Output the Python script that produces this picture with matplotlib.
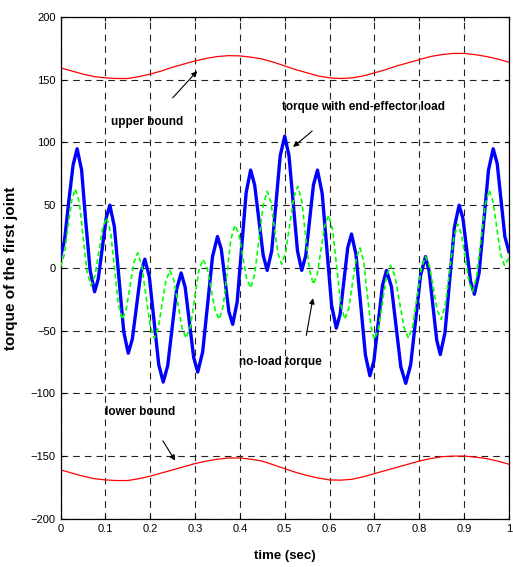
import numpy as np
import matplotlib
matplotlib.use('Agg')
import matplotlib.pyplot as plt

# torque with end-effector load (blue)
blue_t = [0.000, 0.009, 0.018, 0.028, 0.037,
          0.047, 0.056, 0.066, 0.076,
          0.084, 0.093, 0.102, 0.110,
          0.120, 0.1305, 0.141, 0.151,
          0.160, 0.1695, 0.179, 0.188,
          0.198, 0.2085, 0.219, 0.229,
          0.239, 0.249, 0.259, 0.269,
          0.278, 0.2875, 0.297, 0.306,
          0.317, 0.328, 0.339, 0.350,
          0.3585, 0.367, 0.3755, 0.384,
          0.394, 0.404, 0.414, 0.424,
          0.433, 0.4425, 0.452, 0.461,
          0.471, 0.4805, 0.490, 0.500,
          0.5095, 0.519, 0.5285, 0.538,
          0.547, 0.5555, 0.564, 0.573,
          0.5835, 0.594, 0.6045, 0.615,
          0.6235, 0.632, 0.6405, 0.649,
          0.659, 0.6695, 0.680, 0.690,
          0.699, 0.7085, 0.718, 0.727,
          0.738, 0.7485, 0.759, 0.770,
          0.781, 0.792, 0.803, 0.814,
          0.822, 0.8305, 0.839, 0.847,
          0.8575, 0.868, 0.8785, 0.889,
          0.8975, 0.906, 0.9145, 0.923,
          0.9335, 0.944, 0.9545, 0.965,
          0.974, 0.9825, 0.991, 1.000]
blue_v = [9, 22, 52, 82, 95,
          78, 38, -2, -19,
          -9, 15.5, 40, 50,
          33, -9, -51, -68,
          -57, -30.5, -4, 7,
          -7, -42, -77, -91,
          -78, -47.5, -17, -4,
          -15.5, -43.5, -71.5, -83,
          -67, -29, 9, 25,
          15, -10, -35, -45,
          -27, 16.5, 60, 78,
          66, 38, 10, -2,
          13.5, 51.5, 89.5, 105,
          89.5, 51.5, 13.5, -2,
          10, 38, 66, 78,
          59.5, 15, -29.5, -48,
          -37, -10.5, 16, 27,
          10.5, -29.5, -69.5, -86,
          -74, -44, -14, -2,
          -15, -47, -79, -92,
          -77, -41.5, -6, 9,
          -2.5, -30, -57.5, -69,
          -51.5, -9.5, 32.5, 50,
          39.5, 14.5, -10.5, -21,
          -4, 37, 78, 95,
          83, 54, 25, 13]

# no-load torque (green dashed)
green_t = [0.000, 0.008, 0.0165, 0.025, 0.033,
           0.042, 0.0505, 0.059, 0.068,
           0.077, 0.0855, 0.094, 0.103,
           0.112, 0.1205, 0.129, 0.138,
           0.1465, 0.155, 0.1635, 0.172,
           0.181, 0.1905, 0.200, 0.209,
           0.218, 0.2265, 0.235, 0.244,
           0.253, 0.262, 0.271, 0.280,
           0.2895, 0.299, 0.3085, 0.318,
           0.327, 0.336, 0.345, 0.354,
           0.363, 0.3715, 0.380, 0.389,
           0.398, 0.4065, 0.415, 0.424,
           0.433, 0.4425, 0.452, 0.461,
           0.469, 0.477, 0.485, 0.493,
           0.502, 0.511, 0.520, 0.529,
           0.538, 0.5465, 0.555, 0.564,
           0.5725, 0.581, 0.5895, 0.598,
           0.607, 0.616, 0.625, 0.634,
           0.6425, 0.651, 0.6595, 0.668,
           0.676, 0.684, 0.692, 0.700,
           0.709, 0.718, 0.727, 0.736,
           0.746, 0.756, 0.766, 0.776,
           0.7855, 0.795, 0.8045, 0.814,
           0.823, 0.8315, 0.840, 0.849,
           0.858, 0.8675, 0.877, 0.886,
           0.894, 0.9025, 0.911, 0.919,
           0.928, 0.9375, 0.947, 0.956,
           0.9645, 0.973, 0.9815, 0.990,
           1.000]
green_v = [1, 10, 32, 54, 63,
           52, 24.5, -3, -14,
           -6, 13, 32, 40,
           28, -0.5, -29, -41,
           -33, -14.5, 4, 12,
           2, -22, -46, -56,
           -48, -29, -10, -2,
           -10, -29, -48, -56,
           -47, -24.5, -2, 7,
           0, -17, -34, -41,
           -30, -3.5, 23, 34,
           26.5, 9, -8.5, -16,
           -5, 22.5, 50, 61,
           52.5, 32, 11.5, 3,
           12, 34, 56, 65,
           53.5, 26, -1.5, -13,
           -5, 14.5, 34, 42,
           30, 0.5, -29, -41,
           -32.5, -12.5, 7.5, 16,
           5, -20.5, -46, -57,
           -48.5, -27.5, -6.5, 2,
           -6.5, -27, -47.5, -56,
           -46.5, -23.5, -0.5, 9,
           1.5, -16, -33.5, -41,
           -30, -3, 24, 35,
           27, 8, -11, -19,
           -7, 21.5, 50, 62,
           53, 32, 11, 2,
           8]

# bounds (red), sampled every 0.025 s
bound_t = [i*0.025 for i in range(41)]
upper_v = [159.5, 157, 154.5, 152.5, 151.5, 151, 151, 152.5, 154.5, 157,
           160, 162.5, 165, 167, 168.5, 169.2, 169, 168, 166.5, 164,
           161, 158, 155.5, 153, 151.5, 151, 151.5, 153, 155.5, 158,
           161, 163.5, 166, 168.5, 170, 171, 171, 170, 168.5, 166.5,
           164]
lower_v = [-161, -163.5, -166, -168, -169, -169.5, -169.5, -168, -166, -163.5,
           -161, -158.5, -156, -154, -152.5, -151.5, -151.5, -152.5, -154, -157,
           -160, -163, -165.5, -167.5, -169, -169.2, -168.5, -166.5, -164, -161.5,
           -159, -156.5, -154, -152, -150.5, -150, -150, -150.8, -152, -154,
           -156.5]

x_ticks = [0, 0.1, 0.2, 0.3, 0.4, 0.5, 0.6, 0.7, 0.8, 0.9, 1]
x_ticklabels = ['0', '0.1', '0.2', '0.3', '0.4', '0.5', '0.6', '0.7', '0.8', '0.9', '1']
y_ticks = [-200, -150, -100, -50, 0, 50, 100, 150, 200]

FONT = ['Liberation Sans Narrow', 'Liberation Sans', 'DejaVu Sans']


def make_plot():
    plt.rcParams['font.family'] = FONT
    fig = plt.figure(figsize=(5.13, 5.67), dpi=100)
    ax = fig.add_axes([0.118, 0.085, 0.874, 0.885])

    ax.plot(bound_t, upper_v, color='#ff0000', lw=0.9)
    ax.plot(bound_t, lower_v, color='#ff0000', lw=0.9)
    ax.plot(blue_t, blue_v, color='#0000ff', lw=2.4, zorder=3)
    ax.plot(green_t, green_v, color='#00ff00', lw=1.2,
            linestyle=(0, (3, 1.8)), zorder=4)

    ax.set_xlim(0, 1)
    ax.set_ylim(-200, 200)
    ax.set_xticks(x_ticks)
    ax.set_xticklabels(x_ticklabels)
    ax.set_yticks(y_ticks)
    ax.tick_params(direction='in', length=3, width=0.8, labelsize=8,
                   top=True, right=True)
    ax.grid(True, color='#222222', linestyle=(0, (6, 4.5)), lw=0.8)
    for sp in ax.spines.values():
        sp.set_linewidth(0.9)

    ax.set_xlabel('time (sec)', fontsize=9.5, fontweight='bold', labelpad=12)
    ax.set_ylabel('torque of the first joint', fontsize=11,
                  fontweight='bold', labelpad=9)

    arrow = dict(arrowstyle='-|>', color='black', lw=0.8, mutation_scale=8)
    ax.annotate('', xy=(0.309, 158.5), xytext=(0.246, 134), arrowprops=arrow)
    ax.text(0.194, 116, 'upper bound', fontsize=8.5, fontweight='bold',
            ha='center', va='center')

    ax.annotate('', xy=(0.514, 95), xytext=(0.566, 110.5), arrowprops=arrow)
    ax.text(0.493, 128, 'torque with end-effector load', fontsize=8.5,
            fontweight='bold', ha='left', va='center')

    ax.annotate('', xy=(0.564, -22), xytext=(0.547, -56), arrowprops=arrow)
    ax.text(0.399, -75, 'no-load torque', fontsize=8.5, fontweight='bold',
            ha='left', va='center')

    ax.annotate('', xy=(0.259, -155.5), xytext=(0.225, -136), arrowprops=arrow)
    ax.text(0.099, -115, 'lower bound', fontsize=8.5, fontweight='bold',
            ha='left', va='center')

    fig.savefig('out.png', dpi=100)


if __name__ == '__main__':
    make_plot()
